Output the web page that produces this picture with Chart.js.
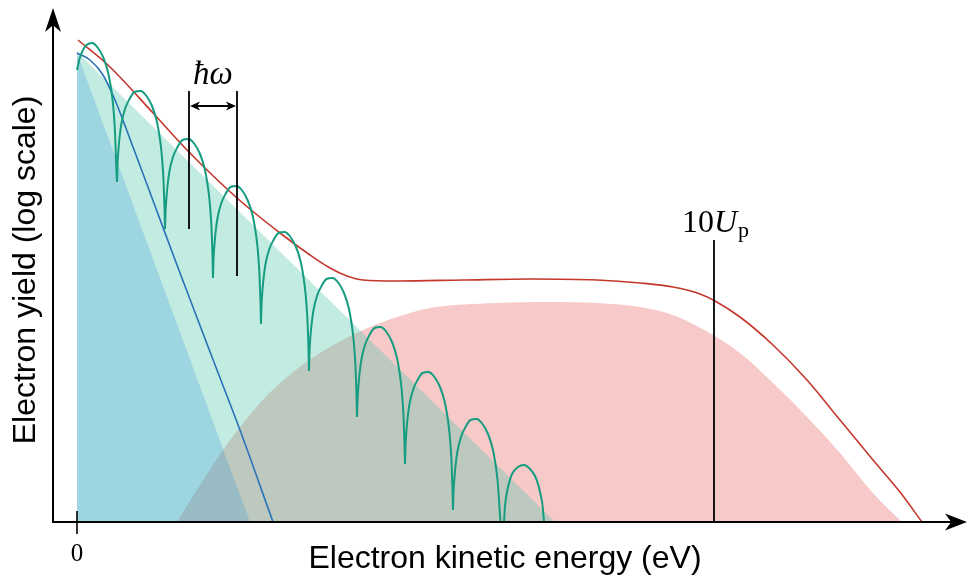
<!DOCTYPE html>
<html>
<head>
<meta charset="utf-8">
<script src="https://cdn.jsdelivr.net/npm/chart.js@4.4.1/dist/chart.umd.min.js"></script>
<style>
  html, body { margin: 0; padding: 0; background: #fff; }
</style>
</head>
<body>
<canvas id="spectrum" width="968" height="578"></canvas>
<script>
// Schematic photoelectron spectrum. Units are arbitrary: x = kinetic energy, y = log yield.
// ATI peaks (green), a null y breaks the line between two peaks
const atiX = [
  0, 2.5, 5.5, 9.5, 15, 21, 26.5, 31, 34, 36, 37, 38, 39, 40, 40,
  40, 40.5, 41.5, 42.5, 44.5, 48, 52.5, 57.5, 63.5, 69.5, 75, 79.5, 82.5, 84.5, 85.5, 86.5, 87.5, 88, 88,
  88, 88.5, 89.5, 90.5, 92.5, 96, 100.5, 105.5, 111.5, 117.5, 123, 127.5, 130.5, 132.5, 133.5, 134.5, 135.5, 136, 136,
  136, 136.5, 137.5, 138.5, 140.5, 144, 148.5, 153.5, 159.5, 165.5, 171, 175.5, 178.5, 180.5, 181.5, 182.5, 183.5, 184, 184,
  184, 184.5, 185.5, 186.5, 188.5, 192, 196.5, 201.5, 207.5, 213.5, 219, 223.5, 226.5, 228.5, 229.5, 230.5, 231.5, 232, 232,
  232, 232.5, 233.5, 234.5, 236.5, 240, 244.5, 249.5, 255.5, 261.5, 267, 271.5, 274.5, 276.5, 277.5, 278.5, 279.5, 280, 280,
  280, 280.5, 281.5, 282.5, 284.5, 288, 292.5, 297.5, 303.5, 309.5, 315, 319.5, 322.5, 324.5, 325.5, 326.5, 327.5, 328, 328,
  328, 328.5, 329.5, 330.5, 332.5, 336, 340.5, 345.5, 351.5, 357.5, 363, 367.5, 370.5, 372.5, 373.5, 374.5, 375.5, 376, 376,
  376, 376.5, 377.5, 378.5, 380.5, 384, 388.5, 393.5, 399.5, 405.5, 411, 415.5, 418.5, 420.5, 421.5, 422.5, 423.5, 424,
  427, 428, 430, 432, 435, 441, 447, 453, 458, 461, 463.5, 465.5, 467
];
const atiY = [
  452, 463, 471, 477, 479, 474, 464, 450, 434, 418, 406, 390, 362, 340, null,
  340, 357, 373, 384, 399, 413, 423, 430, 431, 426, 416, 402, 386, 370, 358, 342, 314, 293, null,
  293, 309, 325, 336, 351, 365, 375, 382, 383, 378, 368, 354, 338, 322, 310, 294, 266, 244, null,
  244, 262, 278, 289, 304, 318, 328, 335, 336, 331, 321, 307, 291, 275, 263, 247, 219, 198, null,
  198, 216, 232, 243, 258, 272, 282, 289, 290, 285, 275, 261, 245, 229, 217, 201, 173, 151, null,
  151, 170, 186, 197, 212, 226, 236, 243, 244, 239, 229, 215, 199, 183, 171, 155, 127, 105, null,
  105, 121, 137, 148, 163, 177, 187, 194, 195, 190, 180, 166, 150, 134, 122, 106, 78, 58, null,
  58, 76, 92, 103, 118, 132, 142, 149, 150, 145, 135, 121, 105, 89, 77, 61, 33, 12, null,
  12, 29, 45, 56, 71, 85, 95, 102, 103, 98, 88, 74, 58, 42, 30, 14, 0, null,
  0, 16, 30, 39, 48, 55, 57, 53, 46, 38, 28, 17, 0
];

// envelope (red line)
const envelopeX = [1, 33, 76, 110, 160, 203, 233, 253, 270, 286, 320, 386, 453, 520, 563, 596, 623, 638, 663, 696, 730, 763, 796, 823, 845];
const envelopeY = [482, 455, 409, 372, 324, 289, 267, 254, 246, 242, 241, 242, 243, 242, 239, 235, 228, 221, 205, 177, 142, 102, 62, 30, 0];

// direct electrons (blue line)
const directX = [0, 13, 26, 38, 53, 78, 103, 140, 163, 196];
const directY = [469, 462, 447, 422, 383, 316, 249, 152, 92, 0];

// shaded regions
const directFillX = [0, 173];
const directFillY = [469, 0];
const atiFillX = [0, 478];
const atiFillY = [470, 0];
const rescatterX = [100, 123, 146, 183, 216, 253, 286, 323, 353, 420, 473, 520, 563, 596, 636, 663, 696, 730, 763, 796, 825];
const rescatterY = [0, 37, 72, 119, 150, 175, 192, 206, 214, 219, 220, 219, 215, 207, 187, 169, 139, 105, 69, 29, 0];

const xTicks = [0];
const xTickLabels = ['0'];
const photonPeaks = [112, 160];   // the two peaks marked with hbar omega
const cutoff = 637;               // 10 Up

const pts = (xs, ys) => xs.map((x, i) => ({ x: x, y: ys[i] }));

function arrowHead(ctx, tx, ty, dx, dy, len, half) {
  const bx = tx - dx * len, by = ty - dy * len;
  const nx = -dy, ny = dx;
  ctx.beginPath();
  ctx.moveTo(tx, ty);
  ctx.lineTo(bx + nx * half, by + ny * half);
  ctx.lineTo(tx - dx * len * 0.72, ty - dy * len * 0.72);
  ctx.lineTo(bx - nx * half, by - ny * half);
  ctx.closePath();
  ctx.fill();
}

const sketchPlugin = {
  id: 'sketch',
  afterDraw(chart) {
    const { ctx, chartArea } = chart;
    const xs = chart.scales.x, ys = chart.scales.y;
    const px = v => xs.getPixelForValue(v);
    const py = v => ys.getPixelForValue(v);
    const ox = chartArea.left, oy = py(0);
    ctx.save();
    ctx.strokeStyle = '#000';
    ctx.fillStyle = '#000';

    // axes with arrows
    ctx.lineWidth = 2;
    ctx.beginPath();
    ctx.moveTo(ox, oy + 1);
    ctx.lineTo(ox, 24);
    ctx.moveTo(ox - 1, oy);
    ctx.lineTo(952, oy);
    ctx.stroke();
    arrowHead(ctx, ox, 8, 0, -1, 24, 8);
    arrowHead(ctx, 967, oy, 1, 0, 22, 8.5);

    // tick at zero
    ctx.lineWidth = 1.6;
    xTicks.forEach((t, i) => {
      const tx = px(t);
      ctx.beginPath();
      ctx.moveTo(tx, oy - 11);
      ctx.lineTo(tx, oy + 12);
      ctx.stroke();
      ctx.font = '25px "Liberation Serif"';
      ctx.textAlign = 'center';
      ctx.textBaseline = 'alphabetic';
      ctx.fillText(xTickLabels[i], tx, 561);
    });

    // hbar omega spacing
    const a = px(photonPeaks[0]), b = px(photonPeaks[1]);
    ctx.lineWidth = 1.8;
    ctx.beginPath();
    ctx.moveTo(a, py(431)); ctx.lineTo(a, py(293));
    ctx.moveTo(b, py(431)); ctx.lineTo(b, py(246));
    const ay = py(416);
    ctx.moveTo(a + 6, ay); ctx.lineTo(b - 6, ay);
    ctx.stroke();
    arrowHead(ctx, a + 1, ay, -1, 0, 10, 4.5);
    arrowHead(ctx, b - 1, ay, 1, 0, 10, 4.5);
    ctx.font = 'italic 33px "Liberation Serif"';
    ctx.textAlign = 'center';
    ctx.fillText('\u0127\u03c9', (a + b) / 2, 84);

    // 10 Up cutoff
    const cx = px(cutoff);
    ctx.beginPath();
    ctx.moveTo(cx, py(282)); ctx.lineTo(cx, oy);
    ctx.stroke();
    ctx.textAlign = 'left';
    let tx = 682;
    ctx.font = '32px "Liberation Serif"';
    ctx.fillText('10', tx, 232);
    tx += ctx.measureText('10').width;
    ctx.font = 'italic 32px "Liberation Serif"';
    ctx.fillText('U', tx, 232);
    tx += ctx.measureText('U').width + 1;
    ctx.font = '22px "Liberation Serif"';
    ctx.fillText('p', tx, 237);

    // axis titles
    ctx.font = '32px "Liberation Sans"';
    ctx.textAlign = 'center';
    ctx.fillText('Electron kinetic energy (eV)', 505, 568);
    ctx.translate(35, 270);
    ctx.rotate(-Math.PI / 2);
    ctx.fillText('Electron yield (log scale)', 0, 0);
    ctx.restore();
  }
};

new Chart(document.getElementById('spectrum'), {
  type: 'line',
  data: {
    datasets: [
      { data: pts(atiX, atiY), borderColor: '#169c80', borderWidth: 2, cubicInterpolationMode: 'monotone', spanGaps: false, order: 0 },
      { data: pts(envelopeX, envelopeY), borderColor: '#c4372c', borderWidth: 1.6, cubicInterpolationMode: 'monotone', order: 1 },
      { data: pts(directX, directY), borderColor: '#2a72b8', borderWidth: 1.6, cubicInterpolationMode: 'monotone', order: 2 },
      { data: pts(directFillX, directFillY), borderWidth: 0, backgroundColor: 'rgba(33,143,217,0.23)', fill: 'origin', order: 3 },
      { data: pts(atiFillX, atiFillY), borderWidth: 0, backgroundColor: 'rgba(81,198,172,0.35)', fill: 'origin', order: 4 },
      { data: pts(rescatterX, rescatterY), borderWidth: 0, backgroundColor: 'rgba(232,95,92,0.33)', fill: 'origin', cubicInterpolationMode: 'monotone', order: 5 }
    ]
  },
  options: {
    responsive: false,
    animation: false,
    layout: { padding: { left: 53, right: 3, top: 8, bottom: 56 } },
    elements: { point: { radius: 0, hoverRadius: 0 } },
    scales: {
      x: { type: 'linear', min: -24, max: 888, display: false },
      y: { type: 'linear', min: 0, max: 514, display: false }
    },
    plugins: { legend: { display: false }, tooltip: { enabled: false } }
  },
  plugins: [sketchPlugin]
});
</script>
</body>
</html>
